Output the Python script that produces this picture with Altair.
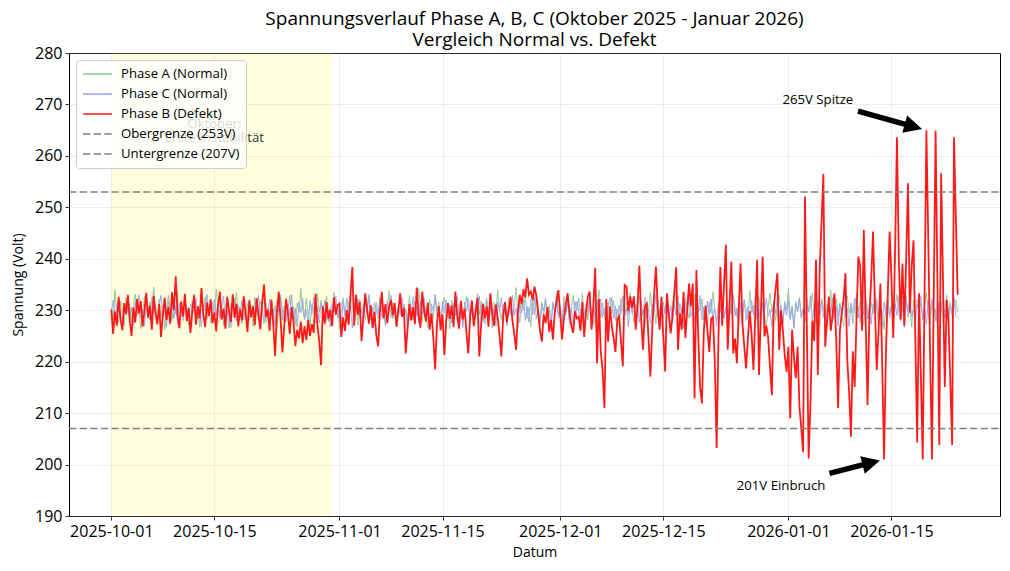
import math

import altair as alt
import pandas as pd

FONT = "Open Sans"

# Readings every 6 hours from 2025-10-01 00:00 UTC
START = "2025-10-01"
FREQ = "6h"

# Phase A (normal) voltage readings [V]
phase_a = [
    230.4, 228.1, 233.9, 229.2, 227.6, 231.8, 230.1, 226.9, 232.4, 229.7, 231.3, 227.8, 230.6, 233.1, 228.9, 231.0, 226.4, 229.5, 232.7, 230.2,
    228.4, 231.6, 229.1, 234.5, 230.0, 227.3, 232.1, 228.7, 230.9, 226.2, 229.8, 232.9, 230.5, 228.0, 231.4, 229.3, 233.6, 227.9, 230.8, 228.6,
    232.3, 229.6, 227.1, 231.2, 230.3, 233.2, 228.5, 230.0, 226.7, 231.9, 229.4, 232.6, 228.2, 230.7, 227.5, 231.5, 229.0, 234.1, 230.4, 228.3,
    231.1, 227.0, 230.2, 232.8, 229.5, 226.6, 231.7, 229.9, 233.4, 228.8, 230.6, 227.4, 232.0, 229.2, 231.3, 228.1, 230.9, 226.8, 232.5, 229.7,
    228.0, 231.8, 230.1, 233.7, 227.7, 230.5, 229.0, 232.2, 228.6, 231.0, 226.5, 230.3, 233.0, 229.4, 227.9, 231.6, 229.8, 232.9, 228.4, 230.8,
    227.2, 231.4, 229.6, 234.2, 230.2, 228.2, 232.3, 229.1, 226.9, 231.1, 230.4, 227.6, 233.3, 229.7, 231.9, 228.5, 230.0, 232.7, 227.8, 230.6,
    229.3, 233.5, 228.9, 231.2, 226.3, 230.7, 232.4, 229.0, 227.5, 231.7, 230.1, 234.0, 228.7, 230.9, 227.1, 232.2, 229.5, 231.3, 228.2, 230.4,
    233.1, 229.2, 226.8, 231.5, 230.0, 228.4, 232.6, 229.8, 231.0, 227.3, 230.5, 233.8, 228.6, 231.6, 229.4, 226.7, 230.8, 232.0, 228.9, 231.2,
    229.7, 227.4, 232.9, 230.3, 228.1, 231.8, 229.0, 234.3, 230.6, 227.7, 231.3, 229.5, 226.6, 232.1, 230.2, 228.3, 233.0, 229.9, 231.5, 227.9,
    230.7, 232.5, 228.8, 230.1, 226.4, 231.9, 229.3, 233.6, 228.0, 230.9, 231.4, 227.2, 229.6, 232.8, 230.4, 228.5, 231.1, 226.9, 230.0, 233.2,
    229.1, 231.7, 227.8, 230.5, 232.3, 228.7, 230.8, 226.6, 231.6, 229.4, 233.9, 230.0, 228.2, 231.2, 229.8, 227.0, 232.4, 230.3, 228.6, 231.0,
    234.4, 229.5, 227.6, 231.4, 230.1, 232.7, 228.4, 230.6, 226.8, 231.8, 229.2, 233.3, 230.7, 227.9, 231.5, 229.0, 232.0, 228.3, 230.9, 227.5,
    231.3, 229.7, 233.7, 228.9, 230.2, 226.5, 232.6, 229.6, 231.1, 227.3, 230.4, 232.9, 228.7, 231.7, 230.0, 227.8, 233.2, 229.3, 230.8, 228.1,
    232.2, 229.9, 227.1, 231.0, 230.5, 234.0, 228.5, 231.4, 229.1, 226.7, 230.7, 232.5, 229.4, 231.9, 228.0, 230.3, 226.9, 232.3, 230.1, 228.8,
    231.6, 229.2, 233.4, 230.6, 227.7, 231.2, 229.7, 232.8, 228.2, 230.0, 226.6, 231.5, 229.8, 233.5, 228.6, 230.9, 227.4, 232.1, 229.5, 231.1,
    228.3, 230.4, 232.6, 229.0, 227.2, 231.7, 230.2, 234.1, 228.9, 231.3, 229.6, 226.8, 232.4, 230.5, 228.4, 231.8, 229.3, 233.0, 227.6, 230.8,
    229.9, 232.2, 228.1, 230.7, 226.5, 231.6, 229.4, 233.6, 230.0, 227.9, 231.2, 229.7, 232.7, 228.5, 230.3, 227.0, 231.9, 229.2, 233.1, 230.6,
    228.7, 231.4, 229.8, 226.9, 232.0, 230.2, 228.2, 233.8, 229.5, 231.0, 227.5, 230.9, 232.5, 228.8, 231.5, 229.1, 226.7, 230.6, 233.3, 229.6,
    231.2, 228.0, 230.4, 232.9, 229.3, 227.3, 231.7, 230.1, 234.2, 228.6, 230.8, 226.6, 231.3, 229.7, 232.3, 228.4, 230.5, 227.8, 232.6, 229.9,
    230.3, 233.4, 228.9, 231.6, 229.0, 226.8, 232.1, 230.7, 228.3, 231.1, 229.6, 233.9, 227.7, 230.2, 232.4, 228.7, 231.4, 229.2, 226.9, 230.9,
    232.8, 229.4, 231.0, 227.4, 230.6, 233.2, 228.5, 231.8, 229.8, 227.1, 232.0, 230.4, 228.1, 231.5, 229.3, 234.0, 230.0, 227.6, 231.2, 229.7,
    226.3, 230.8, 232.7, 229.1, 231.3, 228.2, 230.5, 233.1, 229.5, 227.9, 231.6, 230.1, 232.9, 228.6, 230.7, 226.7, 231.9, 229.0, 232.2, 230.3,
    231.4, 228.4, 230.9, 233.5, 229.2, 227.3, 231.1, 230.6, 228.0, 232.4, 229.8, 231.7, 227.5, 230.2, 233.0, 229.4, 231.5, 228.8, 230.4, 232.0,
    229.6,
]

# Phase C (normal) voltage readings [V]
phase_c = [
    229.6, 231.9, 227.8, 230.7, 232.4, 228.9, 226.5, 231.0, 229.3, 232.8, 228.2, 230.5, 227.1, 231.6, 229.8, 233.0, 228.6, 230.2, 226.9, 231.3,
    230.0, 228.1, 232.5, 229.4, 231.1, 227.5, 230.8, 232.9, 228.7, 230.3, 226.7, 231.7, 229.1, 232.2, 228.4, 230.9, 227.3, 231.4, 229.7, 228.0,
    232.6, 229.2, 230.6, 227.0, 231.8, 229.5, 232.3, 228.3, 230.1, 226.8, 231.2, 229.9, 233.1, 228.8, 230.4, 227.6, 232.0, 229.0, 231.5, 228.5,
    230.7, 232.7, 228.0, 229.8, 226.6, 231.3, 230.2, 232.4, 227.9, 230.9, 229.4, 231.9, 228.2, 230.5, 227.2, 232.1, 229.6, 231.0, 228.7, 230.0,
    232.9, 228.4, 230.6, 227.4, 231.5, 229.3, 232.2, 228.9, 230.3, 226.9, 231.8, 229.7, 232.6, 228.1, 230.8, 227.7, 231.2, 229.1, 233.0, 228.6,
    230.4, 226.7, 231.6, 229.5, 232.3, 228.3, 230.1, 227.1, 231.9, 229.2, 232.5, 228.8, 230.7, 227.5, 231.4, 229.9, 232.0, 228.0, 230.2, 226.8,
    231.1, 229.6, 232.8, 228.5, 230.5, 227.3, 231.7, 229.0, 232.4, 228.2, 230.9, 226.6, 231.3, 229.8, 232.1, 228.7, 230.0, 227.8, 231.6, 229.4,
    232.7, 228.1, 230.6, 227.0, 231.5, 229.3, 232.2, 228.6, 230.3, 226.9, 231.8, 229.7, 232.9, 228.4, 230.8, 227.4, 231.0, 229.1, 232.5, 228.9,
    230.2, 226.7, 231.4, 229.5, 232.6, 228.0, 230.7, 227.6, 231.9, 229.2, 232.3, 228.3, 230.4, 227.2, 231.2, 229.9, 233.0, 228.8, 230.1, 226.8,
    231.7, 229.4, 232.0, 228.5, 230.9, 227.5, 231.3, 229.0, 232.7, 228.2, 230.5, 226.6, 231.6, 229.8, 232.4, 228.7, 230.0, 227.9, 231.1, 229.6,
    232.8, 228.1, 230.6, 227.3, 231.8, 229.3, 232.2, 228.6, 230.3, 226.9, 231.5, 229.7, 232.5, 228.4, 230.8, 227.1, 231.0, 229.2, 232.9, 228.9,
    230.4, 226.7, 231.4, 229.5, 232.1, 228.0, 230.7, 227.7, 231.9, 229.1, 232.6, 228.3, 230.2, 227.2, 231.2, 229.9, 232.3, 228.8, 230.1, 226.8,
    231.6, 229.4, 232.7, 228.5, 230.9, 227.5, 231.3, 229.0, 232.0, 228.2, 230.5, 226.6, 231.7, 229.8, 232.4, 228.7, 230.0, 227.8, 231.1, 229.6,
    232.9, 228.1, 230.6, 227.4, 231.8, 229.3, 232.2, 228.6, 230.3, 226.9, 231.5, 229.7, 232.5, 228.4, 230.8, 227.0, 231.0, 229.2, 232.8, 228.9,
    230.4, 226.8, 231.4, 229.5, 232.3, 228.0, 230.7, 227.6, 231.9, 229.1, 232.6, 228.3, 230.2, 227.3, 231.2, 229.9, 233.1, 228.8, 230.1, 226.7,
    231.6, 229.4, 232.0, 228.5, 230.9, 227.5, 231.3, 229.0, 232.7, 228.2, 230.5, 226.6, 231.7, 229.8, 232.4, 228.7, 230.0, 227.9, 231.1, 229.6,
    232.9, 228.1, 230.6, 227.3, 231.8, 229.3, 232.2, 228.6, 230.3, 226.9, 231.5, 229.7, 232.5, 228.4, 230.8, 227.1, 231.0, 229.2, 232.8, 228.9,
    230.4, 226.7, 231.4, 229.5, 232.1, 228.0, 230.7, 227.7, 231.9, 229.1, 232.6, 228.3, 230.2, 227.2, 231.2, 229.9, 232.3, 228.8, 230.1, 226.8,
    231.7, 229.4, 232.7, 228.5, 230.9, 227.5, 231.3, 229.0, 232.0, 228.2, 230.5, 226.6, 231.6, 229.8, 232.4, 228.7, 230.0, 227.8, 231.1, 229.6,
    232.8, 228.1, 230.6, 227.4, 231.8, 229.3, 232.2, 228.6, 230.3, 226.9, 231.5, 229.7, 232.5, 228.4, 230.8, 227.0, 231.0, 229.2, 232.9, 228.9,
    230.4, 226.8, 231.4, 229.5, 232.3, 228.0, 230.7, 227.6, 231.9, 229.1, 232.6, 228.3, 230.2, 227.3, 231.2, 229.9, 232.2, 228.8, 230.1, 226.7,
    231.6, 229.4, 232.0, 228.5, 230.9, 227.5, 231.3, 229.0, 232.7, 228.2, 230.5, 226.6, 231.7, 229.8, 232.4, 228.7, 230.0, 227.9, 231.1, 229.6,
    232.8, 228.1, 230.6, 227.3, 231.8, 229.3, 232.2, 228.6, 230.3, 226.9, 231.5, 229.7, 232.5, 228.4, 230.8, 227.1, 231.0, 229.2, 232.6, 228.9,
    228.6,
]

# Phase B (defective) voltage readings [V]
phase_b = [
    # October
    230.1, 225.4, 229.8, 227.0, 232.6, 228.3, 226.1, 231.4, 229.2, 233.0, 228.0, 225.0, 230.5, 227.6, 232.2, 229.4, 231.8, 226.8, 229.9, 233.4,
    228.6, 230.9, 226.2, 232.8, 229.5, 227.3, 231.2, 224.8, 229.0, 232.4, 228.1, 230.6, 227.4, 233.5, 230.0, 236.6, 229.1, 226.5, 231.7, 228.8,
    233.2, 227.9, 230.4, 225.6, 229.7, 232.9, 227.2, 230.8, 228.4, 234.3, 229.3, 226.7, 231.5, 228.9, 232.1, 227.5, 229.6, 225.9, 231.0, 233.6,
    228.2, 230.3, 226.4, 232.5, 229.8, 227.7, 233.1, 228.5, 231.3, 226.9, 230.2, 228.0, 232.7, 229.4, 225.8, 231.9, 228.6, 230.7, 227.1, 232.3,
    229.0, 226.3, 231.6, 235.0, 228.7, 230.1, 226.0, 232.0, 227.4, 221.1, 229.5, 233.6, 228.2, 221.8, 227.0, 232.2, 229.3, 225.4, 230.6, 227.8,
    223.0, 226.2, 224.5, 227.8, 223.6, 226.9, 224.2, 228.1, 225.0, 227.3, 225.6, 233.2, 227.1, 224.0, 219.3, 230.7, 227.4, 231.6, 228.3, 230.0,
    226.9, 232.5, 229.2, 231.0,
    # November
    231.3, 224.8, 228.6, 226.0, 230.0, 227.2, 233.1, 238.4, 227.0, 233.0, 229.1, 231.6, 224.0, 228.8, 233.3, 230.2, 227.4, 231.0, 226.5, 229.7,
    225.2, 223.0, 229.8, 233.6, 228.4, 231.2, 227.5, 230.8, 232.0, 229.0, 231.4, 226.8, 229.9, 233.3, 228.7, 230.5, 221.6, 226.3, 231.2, 228.0,
    230.6, 227.3, 234.4, 229.1, 226.6, 233.6, 230.0, 227.8, 231.5, 226.2, 229.4, 224.7, 218.5, 227.5, 230.8, 226.1, 229.2, 221.3, 227.9, 231.4,
    228.3, 230.9, 226.7, 233.6, 229.0, 226.4, 231.8, 228.2, 230.3, 225.8, 221.6, 228.7, 231.9, 226.9, 229.6, 232.4, 221.0, 227.2, 231.3, 228.4,
    230.7, 226.8, 233.3, 229.5, 227.0, 231.1, 228.6, 225.1, 221.0, 228.9, 231.6, 227.7, 230.1, 232.6, 228.0, 225.4, 222.3, 229.8, 233.0, 231.2,
    234.1, 232.5, 236.2, 233.0, 233.6, 231.9, 234.6, 232.8, 229.4, 226.0, 223.9, 229.2, 227.5, 230.6, 225.8, 228.1, 224.3, 229.5, 231.7, 233.9,
    # December
    229.0, 224.3, 228.5, 231.0, 233.3, 229.6, 227.0, 225.6, 229.8, 228.4,
    228.7, 226.0, 231.6, 224.8, 229.5, 232.7, 233.6, 226.2, 231.0, 238.2,
    219.7, 232.2, 222.0, 218.4, 211.0, 232.2, 223.9, 230.7, 227.0, 224.5,
    221.9, 228.2, 228.8, 224.0, 219.1, 234.9, 234.6, 229.8, 232.7, 230.5,
    232.7, 226.2, 231.0, 238.7, 228.0, 222.3, 230.7, 231.3, 224.3, 217.1,
    226.5, 233.0, 238.5, 230.4, 226.2, 232.6, 225.0, 218.1, 233.3, 229.0,
    225.5, 228.8, 233.5, 238.4, 222.3, 229.4, 226.2, 233.6, 224.6, 230.0,
    235.2, 230.8, 235.2, 212.9, 237.8, 225.0, 215.0, 211.9, 225.8, 230.9,
    226.0, 221.9, 228.4, 228.7, 220.0, 203.2, 225.0, 238.4, 227.0, 235.0,
    242.7, 222.3, 231.0, 239.4, 221.6, 224.5, 219.7, 230.0, 239.1, 227.5,
    223.0, 218.7, 224.5, 229.8, 225.2, 218.4, 229.0, 239.8, 217.4, 229.0,
    240.4, 224.9, 227.0, 224.6, 219.0, 213.5, 230.4, 234.0, 237.2, 222.3,
    230.0, 226.0, 221.3, 218.0, 222.9, 209.0, 226.2, 221.0, 216.8, 222.9,
    211.2, 207.0, 202.4, 252.1, 227.0, 201.2,
    # January
    212.0, 228.0, 224.0, 239.8, 217.4, 238.0, 247.0, 256.5, 222.9, 228.0,
    232.6, 226.0, 229.0, 233.3, 224.0, 211.0, 226.0, 229.5, 232.0, 237.2,
    220.3, 214.0, 205.4, 222.0, 215.1, 228.0, 240.4, 238.5, 226.0, 245.6,
    228.0, 211.6, 229.0, 236.0, 245.3, 231.0, 218.4, 226.0, 235.2, 219.0,
    201.0, 222.0, 233.0, 245.3, 236.0, 224.6, 242.0, 263.6, 240.0, 228.2,
    239.1, 227.0, 240.0, 254.7, 229.5, 238.5, 243.6, 224.0, 204.3, 233.3,
    217.0, 201.0, 233.0, 265.0, 244.0, 222.0, 201.0, 233.0, 264.9, 235.0,
    203.8, 256.6, 236.0, 215.1, 232.0, 228.0, 216.0, 203.8, 263.6, 248.0,
    233.0,
]

assert len(phase_a) == len(phase_b) == len(phase_c)

upper_limit = 253
lower_limit = 207

series_names = ["Phase A (Normal)", "Phase C (Normal)", "Phase B (Defekt)",
                "Obergrenze (253V)", "Untergrenze (207V)"]
series_colors = ["#8cc68c", "#9aa0f5", "#ff1a1a", "#808080", "#808080"]
series_dash = [[1, 0], [1, 0], [1, 0], [7.4, 3.2], [7.4, 3.2]]

tick_dates = ["2025-10-01", "2025-10-15", "2025-11-01", "2025-11-15",
              "2025-12-01", "2025-12-15", "2026-01-01", "2026-01-15"]

band_start, band_end = "2025-10-01", "2025-10-31"
band_label = "Oktober:\nErste Instabilität"
band_label_x, band_label_y = "2025-10-15", 265.5

# annotations: text, text anchor, annotated reading index
annot_text = ["265V Spitze", "201V Einbruch"]
annot_text_x = ["2026-01-05", "2025-12-31"]
annot_text_y = [270, 195]
annot_index = [443, 420]
annot_tail = [0.37, 0.47]   # where the arrow leaves the label (fraction of the way)

# ---------------------------------------------------------------------------

W, H = 931, 463
Y_MIN, Y_MAX = 190, 280

times = pd.date_range(START, periods=len(phase_b), freq=FREQ)
span = times[-1] - times[0]
dom0 = times[0] - 0.05 * span
dom1 = times[-1] + 0.05 * span


def iso(ts):
    return pd.Timestamp(ts).strftime("%Y-%m-%dT%H:%M:%SZ")


def ms(ts):
    return int(pd.Timestamp(ts).value // 10**6)


MS0, MS1 = ms(dom0), ms(dom1)


def px_x(m):
    return (m - MS0) / (MS1 - MS0) * W


def px_y(v):
    return (Y_MAX - v) / (Y_MAX - Y_MIN) * H


def data_x(p):
    return iso(pd.Timestamp(MS0 + p / W * (MS1 - MS0), unit="ms"))


def data_y(p):
    return Y_MAX - p / H * (Y_MAX - Y_MIN)


iso_times = [iso(t) for t in times]

x_scale = alt.Scale(type="utc", domain=[MS0, MS1], nice=False)
y_scale = alt.Scale(domain=[Y_MIN, Y_MAX], nice=False, zero=False)

TICK_FS = 16
AXIS_TITLE_FS = 14
TEXT_FS = 13.2

x_axis = alt.Axis(
    values=[ms(d) for d in tick_dates], format="%Y-%m-%d", title="Datum",
    labelFontSize=TICK_FS, labelColor="black", labelPadding=3, labelFlush=False,
    labelOverlap=False, tickSize=4, tickColor="black", tickWidth=0.8,
    titleFontSize=AXIS_TITLE_FS, titleFontWeight="normal", titleColor="black", titlePadding=6,
    grid=True, gridColor="#b0b0b0", gridOpacity=0.3, gridWidth=0.8, domain=False,
)
y_axis = alt.Axis(
    values=list(range(Y_MIN, Y_MAX + 1, 10)), title="Spannung (Volt)",
    labelFontSize=TICK_FS, labelColor="black", labelPadding=3, tickSize=4,
    tickColor="black", tickWidth=0.8, titleFontSize=AXIS_TITLE_FS, titleFontWeight="normal",
    titleColor="black", titlePadding=9, grid=True, gridColor="#b0b0b0",
    gridOpacity=0.3, gridWidth=0.8, domain=False,
)


def X(field, **kw):
    return alt.X(field, type="temporal", scale=x_scale, axis=x_axis, **kw)


def Y(field, **kw):
    return alt.Y(field, type="quantitative", scale=y_scale, axis=y_axis, **kw)


legend = alt.Legend(
    title=None, orient="top-left", offset=7, padding=6,
    fillColor="rgba(255,255,255,0.8)", strokeColor="#cccccc", cornerRadius=3,
    symbolType="stroke", symbolSize=841, symbolStrokeWidth=1.5,
    clipHeight=16, rowPadding=4, labelOffset=8,
    labelFontSize=TEXT_FS, labelColor="black", labelFont=FONT,
)
color_enc = alt.Color("Serie:N", scale=alt.Scale(domain=series_names, range=series_colors),
                      legend=legend)
dash_enc = alt.StrokeDash("Serie:N", scale=alt.Scale(domain=series_names, range=series_dash),
                          legend=legend)


def series_layer(name, values, width):
    df = pd.DataFrame({"t": iso_times, "v": values, "Serie": name})
    return alt.Chart(df).mark_line(strokeWidth=width, clip=True).encode(
        x=X("t"), y=Y("v"), color=color_enc, strokeDash=dash_enc
    )


# highlighted October period
band = alt.Chart(pd.DataFrame({"s": [iso(band_start)], "e": [iso(band_end)]})).mark_rect(
    color="yellow", opacity=0.12
).encode(x=X("s"), x2="e")

band_text = alt.Chart(pd.DataFrame({"x": [iso(band_label_x)], "y": [band_label_y],
                                    "txt": [band_label]})).mark_text(
    lineBreak="\n", fontSize=TEXT_FS, color="#333333", align="center", baseline="alphabetic",
    lineHeight=14, font=FONT,
).encode(x=X("x"), y=Y("y"), text="txt:N")

line_a = series_layer(series_names[0], phase_a, 1.0)
line_c = series_layer(series_names[1], phase_c, 1.0)
line_b = series_layer(series_names[2], phase_b, 1.8)

limits_df = pd.DataFrame({
    "t": [iso(dom0), iso(dom1), iso(dom0), iso(dom1)],
    "v": [upper_limit, upper_limit, lower_limit, lower_limit],
    "Serie": [series_names[3]] * 2 + [series_names[4]] * 2,
})
limits = alt.Chart(limits_df).mark_line(strokeWidth=1.5).encode(
    x=X("t"), y=Y("v"), color=color_enc, strokeDash=dash_enc
)

# annotation arrows (computed in pixel space, stored back as data values)
HEAD_LEN = 18
rows = []
for txt, tx, ty, idx, tail_f in zip(annot_text, annot_text_x, annot_text_y, annot_index, annot_tail):
    cx, cy = px_x(ms(tx)), px_y(ty) - 4.5
    gx, gy = px_x(ms(times[idx])), px_y(phase_b[idx])
    sx, sy = cx + tail_f * (gx - cx), cy + tail_f * (gy - cy)
    ex, ey = cx + 0.96 * (gx - cx), cy + 0.96 * (gy - cy)
    L = math.hypot(ex - sx, ey - sy)
    ux, uy = (ex - sx) / L, (ey - sy) / L
    hx, hy = ex - ux * HEAD_LEN / 2, ey - uy * HEAD_LEN / 2
    ang = math.degrees(math.atan2(ux, -uy)) % 360
    rows.append({"txt": txt, "tx": iso(tx), "ty": ty,
                 "x0": data_x(sx), "y0": data_y(sy),
                 "x1": data_x(hx), "y1": data_y(hy), "ang": ang})
annot_df = pd.DataFrame(rows)

shafts = alt.Chart(annot_df).mark_rule(color="black", strokeWidth=5.5).encode(
    x=X("x0"), y=Y("y0"), x2="x1", y2="y1"
)
heads = alt.Chart(annot_df).mark_point(
    shape="M0,-1L1,1L-1,1Z", filled=True, color="black", opacity=1,
    size=HEAD_LEN ** 2, strokeWidth=0,
).encode(x=X("x1"), y=Y("y1"), angle=alt.Angle("ang:Q", scale=None))
labels = alt.Chart(annot_df).mark_text(
    fontSize=TEXT_FS, color="black", align="center", baseline="alphabetic", font=FONT
).encode(x=X("tx"), y=Y("ty"), text="txt:N")

chart = alt.layer(
    band, band_text, line_a, line_c, line_b, limits, shafts, heads, labels
).properties(
    width=W, height=H,
    title=alt.TitleParams(
        text=["Spannungsverlauf Phase A, B, C (Oktober 2025 - Januar 2026)",
              "Vergleich Normal vs. Defekt"],
        fontSize=19, fontWeight="normal", color="black", anchor="middle",
        frame="group", offset=-5, lineHeight=21, font=FONT,
    ),
    padding={"left": 69, "top": 53, "right": 10, "bottom": 55},
    autosize=alt.AutoSizeParams(type="none"),
).configure(
    font=FONT, background="white",
    view=alt.ViewConfig(stroke="black", strokeWidth=1),
)

chart.save("out.html", embed_options={"renderer": "svg", "actions": False})
